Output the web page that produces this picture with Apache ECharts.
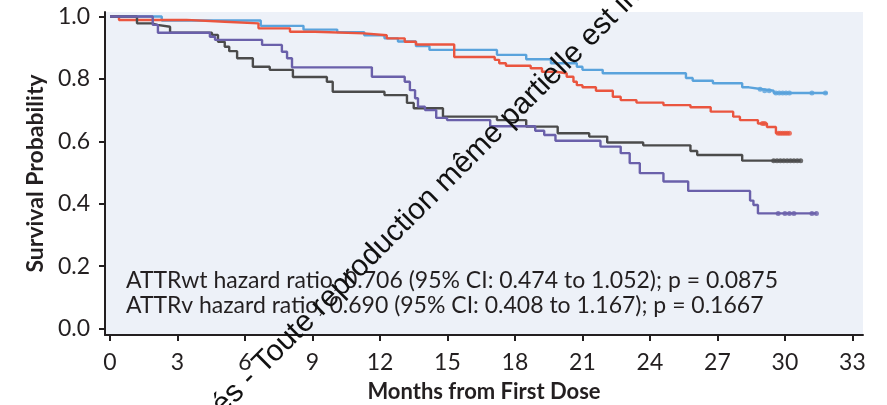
<!DOCTYPE html>
<html><head><meta charset="utf-8">
<script src="https://cdn.jsdelivr.net/npm/echarts@6/dist/echarts.min.js"></script>
<style>html,body{margin:0;padding:0;background:#fff}#c{width:887px;height:405px}</style>
</head><body><div id="c"></div>
<script>
// ---- data (months, survival probability) ----
const xTicks = [0, 3, 6, 9, 12, 15, 18, 21, 24, 27, 30, 33];
const yTicks = [0, 0.2, 0.4, 0.6, 0.8, 1.0];

const blueT = [0, 2.3, 6.7, 8.6, 10.1, 11.3, 12.2, 12.8, 13.6, 14.2, 17.2, 18.5, 19.6, 20.75, 21.0, 21.9, 25.6, 25.9, 26.8, 28.1, 28.4, 29.0, 29.5, 31.9];
const blueS = [1.0, 0.987, 0.97, 0.958, 0.95, 0.94, 0.93, 0.92, 0.905, 0.893, 0.877, 0.863, 0.85, 0.839, 0.829, 0.818, 0.803, 0.794, 0.786, 0.773, 0.767, 0.762, 0.755, 0.755];
const blueCensorT = [28.9, 29.1, 29.3, 29.6, 29.75, 29.9, 30.05, 30.2, 31.2, 31.8];
const blueCensorS = [0.767, 0.762, 0.762, 0.755, 0.755, 0.755, 0.755, 0.755, 0.755, 0.755];

const redT = [0, 0.4, 3.4, 5.1, 6.6, 8.0, 9.1, 11.3, 12.3, 13.1, 13.6, 15.3, 17.1, 17.3, 17.6, 18.7, 19.2, 19.8, 20.3, 20.6, 20.75, 21.0, 21.6, 22.35, 22.7, 23.4, 24.6, 25.8, 26.7, 27.7, 28.0, 28.8, 29.2, 29.6, 30.2];
const redS = [1.0, 0.989, 0.983, 0.978, 0.962, 0.951, 0.946, 0.94, 0.93, 0.919, 0.91, 0.87, 0.861, 0.85, 0.842, 0.834, 0.823, 0.818, 0.807, 0.791, 0.78, 0.773, 0.762, 0.743, 0.732, 0.724, 0.716, 0.709, 0.695, 0.679, 0.668, 0.657, 0.646, 0.626, 0.626];
const redCensorT = [29.0, 29.1, 29.7, 29.8, 29.9, 30.0, 30.1, 30.2];
const redCensorS = [0.657, 0.657, 0.626, 0.626, 0.626, 0.626, 0.626, 0.626];

const grayT = [0, 1.2, 1.87, 2.1, 2.67, 4.53, 4.8, 5.1, 5.3, 5.65, 6.35, 7.1, 8.13, 9.64, 9.9, 12.2, 13.2, 13.5, 14.8, 17.2, 18.5, 19.9, 21.3, 22.1, 23.7, 25.8, 26.1, 28.1, 30.7];
const grayS = [1.0, 0.978, 0.973, 0.967, 0.948, 0.941, 0.919, 0.903, 0.889, 0.866, 0.839, 0.829, 0.806, 0.791, 0.759, 0.748, 0.723, 0.706, 0.679, 0.668, 0.647, 0.626, 0.615, 0.596, 0.587, 0.569, 0.556, 0.538, 0.538];
const grayCensorT = [29.5, 29.65, 29.8, 29.95, 30.1, 30.25, 30.4, 30.55, 30.7];
const grayCensorS = [0.538, 0.538, 0.538, 0.538, 0.538, 0.538, 0.538, 0.538, 0.538];

const purpleT = [0, 1.9, 2.13, 4.44, 4.67, 6.76, 7.64, 7.87, 8.09, 11.64, 13.1, 13.33, 13.56, 13.69, 14.0, 14.5, 14.98, 16.9, 18.9, 19.3, 19.8, 21.8, 22.7, 23.1, 23.55, 24.6, 25.7, 28.45, 28.6, 28.8, 31.4];
const purpleS = [1.0, 0.973, 0.948, 0.935, 0.925, 0.909, 0.887, 0.866, 0.837, 0.807, 0.791, 0.764, 0.738, 0.711, 0.700, 0.675, 0.668, 0.648, 0.634, 0.62, 0.602, 0.583, 0.562, 0.53, 0.498, 0.471, 0.441, 0.41, 0.396, 0.369, 0.369];
const purpleCensorT = [29.7, 30.0, 30.2, 30.4, 31.2, 31.4];
const purpleCensorS = [0.369, 0.369, 0.369, 0.369, 0.369, 0.369];

const annotLines = [
  'ATTRwt hazard ratio, 0.706 (95% CI: 0.474 to 1.052); p = 0.0875',
  'ATTRv hazard ratio, 0.690 (95% CI: 0.408 to 1.167); p = 0.1667'
];
const watermark = 'és - Toute reproduction même partielle est in';

// ---- chart ----
const FONT = 'Lato, "Noto Sans", sans-serif';
const TXT = '#231f20';
const pairs = (t, s) => t.map((x, i) => [x, s[i]]);

function curve(name, t, s, color) {
  return {
    name, type: 'line', step: 'end', data: pairs(t, s), symbol: 'none',
    lineStyle: { color, width: 2.4 }, itemStyle: { color }, z: 3, silent: true
  };
}
function censor(name, t, s, color) {
  return {
    name: name + ' censored', type: 'scatter', data: pairs(t, s), symbol: 'circle', symbolSize: 5,
    itemStyle: { color }, z: 4, silent: true
  };
}

const BLUE = '#5aa3dc', RED = '#ea553f', GRAY = '#4b4b4b', PURPLE = '#6a60aa';

const chart = echarts.init(document.getElementById('c'), null, { renderer: 'canvas' });
chart.setOption({
  animation: false,
  grid: { left: 105, right: 24, top: 12, bottom: 70, show: true, backgroundColor: '#edf1f8', borderWidth: 0,
    containLabel: false, outerBoundsMode: 'none' },
  xAxis: {
    type: 'value', min: -0.222, max: 33.47,
    name: 'Months from First Dose', nameLocation: 'middle', nameGap: 46,
    nameTextStyle: { fontFamily: FONT, fontWeight: 'bold', fontSize: 22, color: TXT },
    axisLine: { show: true, onZero: false, lineStyle: { color: TXT, width: 2 } },
    axisTick: { show: true, length: 6, customValues: xTicks, lineStyle: { color: TXT, width: 2 } },
    axisLabel: { customValues: xTicks, margin: 16, fontFamily: FONT, fontSize: 23, color: TXT },
    splitLine: { show: false }
  },
  yAxis: {
    type: 'value', min: -0.0208, max: 1.0144,
    name: 'Survival Probability', nameLocation: 'middle', nameGap: 57, nameRotate: 90,
    nameTextStyle: { fontFamily: FONT, fontWeight: 'bold', fontSize: 23, color: TXT },
    axisLine: { show: true, onZero: false, lineStyle: { color: TXT, width: 2 } },
    axisTick: { show: true, length: 6, customValues: yTicks, lineStyle: { color: TXT, width: 2 } },
    axisLabel: { customValues: yTicks, margin: 15, fontFamily: FONT, fontSize: 23, color: TXT,
      formatter: v => Number(v).toFixed(1) },
    splitLine: { show: false }
  },
  series: [
    curve('Light blue', blueT, blueS, BLUE),
    curve('Red', redT, redS, RED),
    curve('Gray', grayT, grayS, GRAY),
    curve('Purple', purpleT, purpleS, PURPLE),
    censor('Light blue', blueCensorT, blueCensorS, BLUE),
    censor('Red', redCensorT, redCensorS, RED),
    censor('Gray', grayCensorT, grayCensorS, GRAY),
    censor('Purple', purpleCensorT, purpleCensorS, PURPLE)
  ],
  graphic: [
    { type: 'text', x: 126, y: 281, z: 10, silent: true,
      style: { text: annotLines[0], fontFamily: FONT, fontSize: 23, fill: TXT, align: 'left', verticalAlign: 'middle' } },
    { type: 'text', x: 126, y: 306, z: 10, silent: true,
      style: { text: annotLines[1], fontFamily: FONT, fontSize: 23, fill: TXT, align: 'left', verticalAlign: 'middle' } },
    { type: 'text', x: 217, y: 410, rotation: Math.PI / 4, z: 20, silent: true,
      style: { text: watermark, fontFamily: '"Liberation Sans", Arial, sans-serif', fontSize: 30, fill: '#111', align: 'left', verticalAlign: 'middle' } }
  ]
});
</script></body></html>
